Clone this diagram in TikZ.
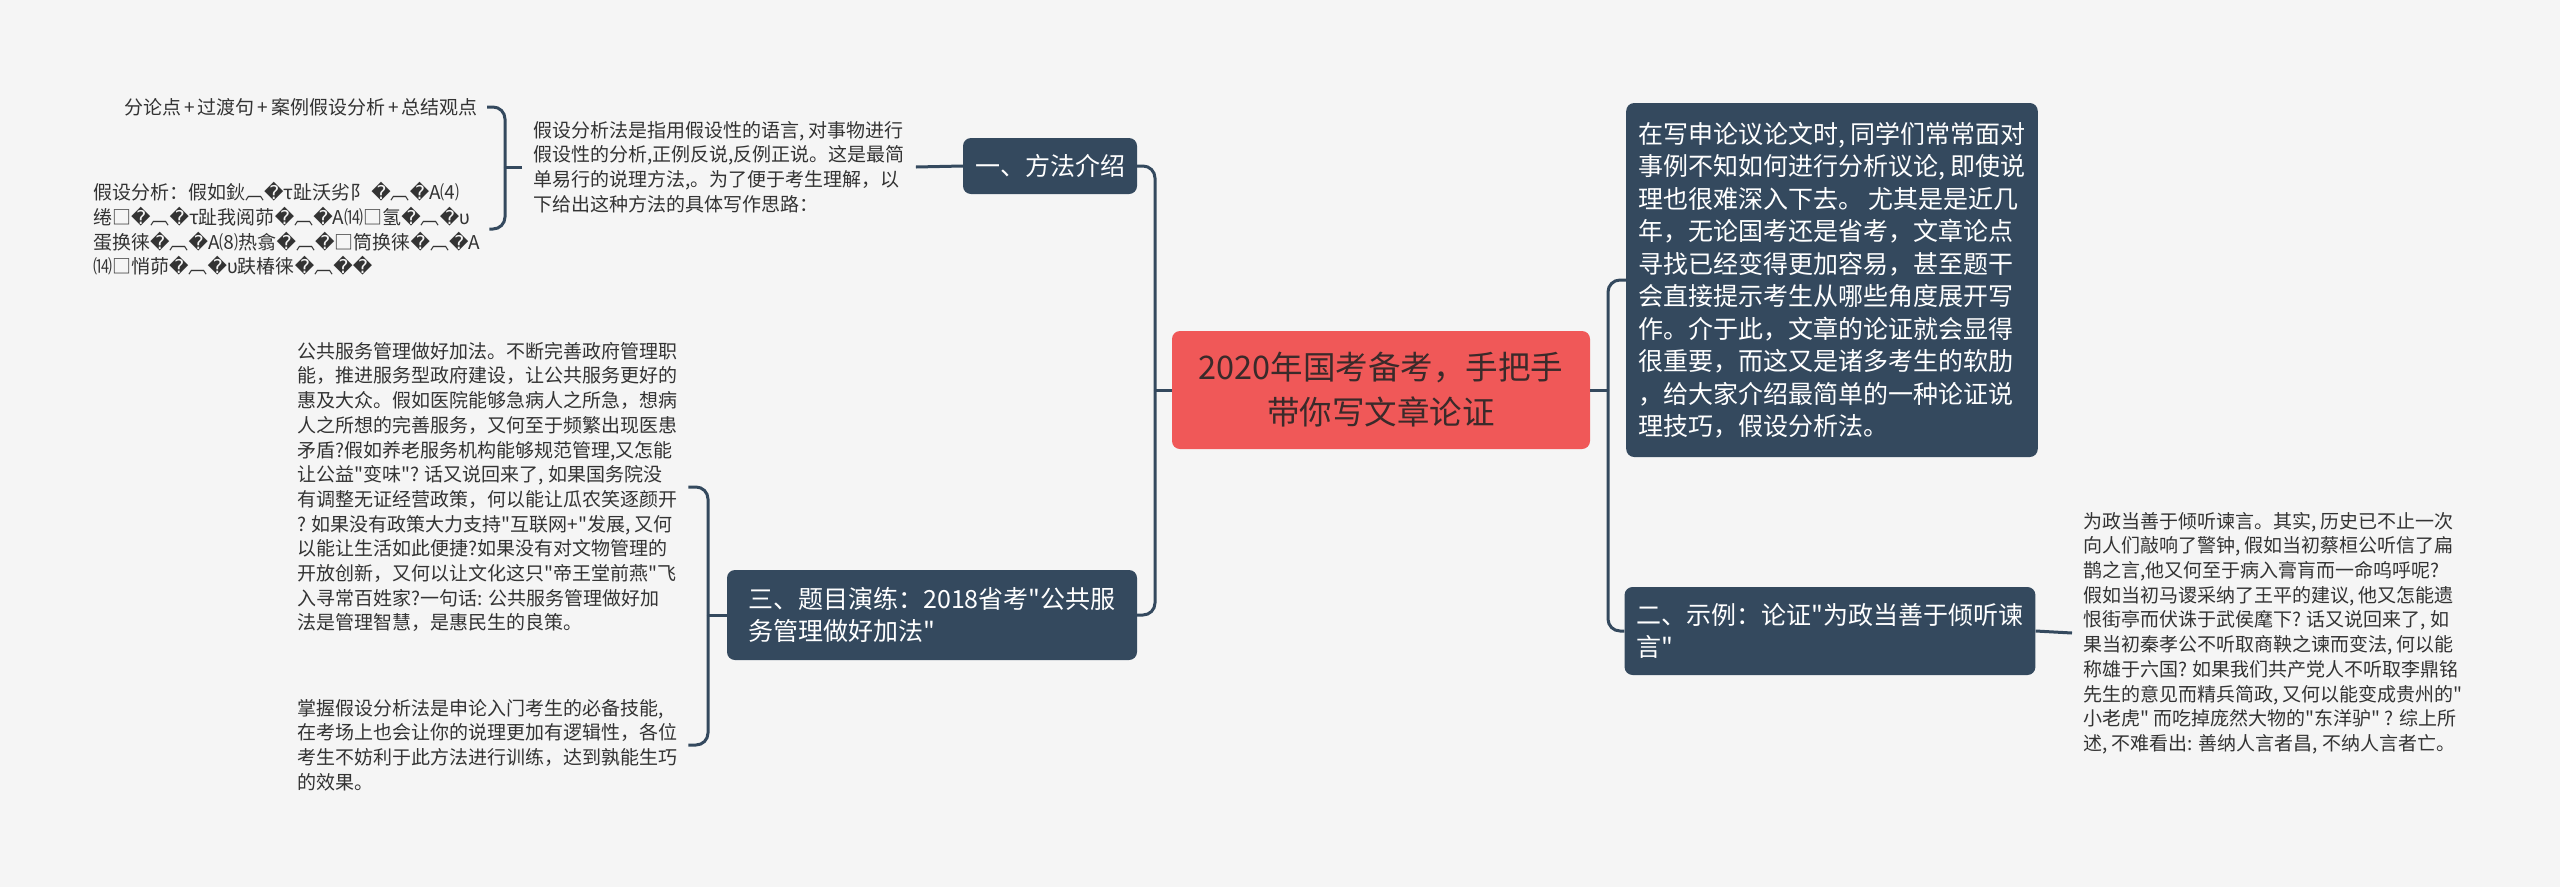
\documentclass[tikz,border=0pt]{standalone}
\usepackage{fontspec}
\setmainfont{Noto Sans CJK SC}[Ligatures=TeXOff]
\newfontfamily\dvs{DejaVu Sans}
\newcommand\qrep{{\dvs\char"FFFD}}
\newcommand\plusgap{\hspace{3pt}+\hspace{3pt}}
\definecolor{navy}{HTML}{34495E}
\definecolor{redbox}{HTML}{F05858}
\definecolor{bgc}{HTML}{F5F5F5}
\definecolor{leaftxt}{HTML}{333333}
\definecolor{titletxt}{HTML}{3A2A2A}
\begin{document}
\begin{tikzpicture}[x=1pt,y=-1pt,
  conn/.style={draw=navy,line width=3pt,rounded corners=12pt},
  rootbox/.style={fill=redbox,text=titletxt,rounded corners=8pt,align=center,
    minimum width=418pt,minimum height=118pt,font=\fontsize{32.5}{45}\selectfont},
  topbox/.style={fill=navy,text=white,rounded corners=8pt,inner xsep=12pt,inner ysep=2pt,
    align=left,font=\fontsize{25}{32.5}\selectfont},
  leaf/.style={text=leaftxt,align=left,inner xsep=11pt,inner ysep=4pt,
    font=\fontsize{19}{24.7}\selectfont}]
\fill[bgc] (0,0) rectangle (2560,887);
\useasboundingbox (0,0) rectangle (2560,887);

% root
\node[rootbox] (root) at (1381,390) {2020年国考备考，手把手\\带你写文章论证};

% right side
\node[topbox,minimum width=410pt,minimum height=354pt] (rtop) at (1832,280)
 {在写申论议论文时, 同学们常常面对\\事例不知如何进行分析议论, 即使说\\理也很难深入下去。 尤其是是近几\\年，无论国考还是省考，文章论点\\寻找已经变得更加容易，甚至题干\\会直接提示考生从哪些角度展开写\\作。介于此，文章的论证就会显得\\很重要，而这又是诸多考生的软肋\\，给大家介绍最简单的一种论证说\\理技巧，假设分析法。};
\node[topbox,minimum width=407pt,minimum height=88pt] (rtwo) at (1830,631)
 {二、示例：论证"为政当善于倾听谏\\言"\hspace{12em}};
\node[leaf,anchor=west] (rleaf) at (2072,633)
 {为政当善于倾听谏言。其实, 历史已不止一次\\向人们敲响了警钟, 假如当初蔡桓公听信了扁\\鹊之言,他又何至于病入膏肓而一命呜呼呢?\\假如当初马谡采纳了王平的建议, 他又怎能遗\\恨街亭而伏诛于武侯麾下? 话又说回来了, 如\\果当初秦孝公不听取商鞅之谏而变法, 何以能\\称雄于六国? 如果我们共产党人不听取李鼎铭\\先生的意见而精兵简政, 又何以能变成贵州的"\\小老虎" 而吃掉庞然大物的"东洋驴" ? 综上所\\述, 不难看出: 善纳人言者昌, 不纳人言者亡。};

% left side
\node[topbox,minimum width=174pt,minimum height=56pt,align=center] (sone) at (1050,166) {一、方法介绍};
\node[topbox,minimum width=410pt,minimum height=90pt] (sthree) at (932,615)
 {三、题目演练：2018省考"公共服\\务管理做好加法"\hspace{7em}};

\node[leaf,anchor=west] (oneleaf) at (522,167)
 {假设分析法是指用假设性的语言, 对事物进行\\假设性的分析,正例反说,反例正说。这是最简\\单易行的说理方法,。为了便于考生理解，以\\下给出这种方法的具体写作思路：};
\node[leaf,anchor=east,inner xsep=9pt] (steps) at (487,107)
 {分论点\plusgap 过渡句\plusgap 案例假设分析\plusgap 总结观点};
\node[leaf,anchor=west,inner xsep=9pt] (garbled) at (84,229)
 {假设分析：假如鈥︹\qrep{}τ趾沃劣阝\hspace{2pt}\qrep{}︹\qrep{}A⑷\\绻□\qrep{}︹\qrep{}τ趾我阅茆\qrep{}︹\qrep{}A⒁□氢\qrep{}︹\qrep{}υ\\蛋换徕\qrep{}︹\qrep{}A⑻热翕\qrep{}︹\qrep{}□筒换徕\qrep{}︹\qrep{}A\\⒁□悄茆\qrep{}︹\qrep{}υ趺椿徕\qrep{}︹\qrep{}\qrep{}};

\node[leaf,anchor=west] (threeleafa) at (286,487)
 {公共服务管理做好加法。不断完善政府管理职\\能，推进服务型政府建设，让公共服务更好的\\惠及大众。假如医院能够急病人之所急，想病\\人之所想的完善服务，又何至于频繁出现医患\\矛盾?假如养老服务机构能够规范管理,又怎能\\让公益"变味"? 话又说回来了, 如果国务院没\\有调整无证经营政策，何以能让瓜农笑逐颜开\\? 如果没有政策大力支持"互联网+"发展, 又何\\以能让生活如此便捷?如果没有对文物管理的\\开放创新，又何以让文化这只"帝王堂前燕"飞\\入寻常百姓家?一句话: 公共服务管理做好加\\法是管理智慧，是惠民生的良策。};
\node[leaf,anchor=west] (threeleafb) at (286,745)
 {掌握假设分析法是申论入门考生的必备技能,\\在考场上也会让你的说理更加有逻辑性，各位\\考生不妨利于此方法进行训练，达到孰能生巧\\的效果。};

% junctions
\coordinate (jr) at (1608,390);
\coordinate (jl) at (1155,390);
\coordinate (jone) at (505,167);
\coordinate (jthree) at (708,615);

% connectors
\draw[conn] (root.east) -- (jr);
\draw[conn] (jr) |- (rtop.west);
\draw[conn] (jr) |- (rtwo.west);
\draw[conn] (rtwo.east) -- (rleaf.west);
\draw[conn] (root.west) -- (jl);
\draw[conn] (jl) |- (sone.east);
\draw[conn] (jl) |- (sthree.east);
\draw[conn] (sone.west) -- (oneleaf.east);
\draw[conn] (oneleaf.west) -- (jone);
\draw[conn] (jone) |- (steps.east);
\draw[conn] (jone) |- (garbled.east);
\draw[conn] (sthree.west) -- (jthree);
\draw[conn] (jthree) |- (threeleafa.east);
\draw[conn] (jthree) |- (threeleafb.east);
\end{tikzpicture}
\end{document}
